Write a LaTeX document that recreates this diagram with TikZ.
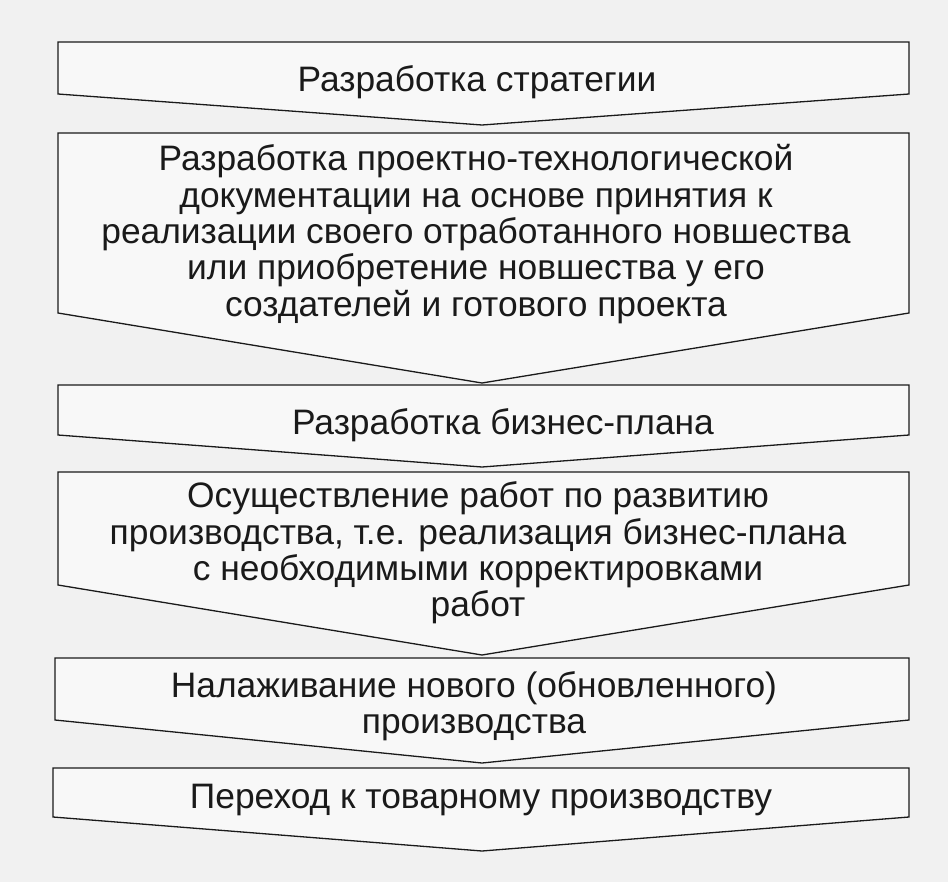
\documentclass[tikz,border=0pt]{standalone}
\usepackage{fontspec}
\setmainfont{Liberation Sans}
\definecolor{bg}{HTML}{F1F1F1}
\definecolor{boxfill}{HTML}{F8F8F8}
\definecolor{ink}{HTML}{1A1A1A}
\tikzset{
  chev/.style={draw=ink, line width=1.3bp, fill=boxfill, line join=miter},
  lbl/.style={text=ink, align=center, font=\fontsize{35.5}{36.5}\selectfont, inner sep=0pt}
}
\newcommand{\chevshape}[6]{% left right top sides tip tipx
  \path[chev] (#1,#3) -- (#2,#3) -- (#2,#4) -- (#6,#5) -- (#1,#4) -- cycle;}
\begin{document}
\begin{tikzpicture}[x=1bp,y=-1bp]
\fill[bg] (0,0) rectangle (948,882);
\useasboundingbox (0,0) rectangle (948,882);
\chevshape{58}{909}{42}{94}{125}{482}
\chevshape{58}{909}{133}{313}{383}{482}
\chevshape{58}{909}{385}{435}{467}{482}
\chevshape{58}{909}{472}{585}{655}{482}
\chevshape{55}{909}{658}{720}{763}{482}
\chevshape{53}{909}{768}{817}{851}{482}
\node[lbl] (t1) at (477,82) {Разработка стратегии};
\node[lbl] (t2) at (476,234) {Разработка проектно-технологической\\документации на основе принятия к\\реализации своего отработанного новшества\\или приобретение новшества у его\\создателей и готового проекта};
\node[lbl] (t3) at (503,425) {Разработка бизнес-плана};
\node[lbl] (t4) at (478,553) {Осуществление работ по развитию\\производства, т.е. реализация бизнес-плана\\с необходимыми корректировками\\работ};
\node[lbl] (t5) at (474,706) {Налаживание нового (обновленного)\\производства};
\node[lbl] (t6) at (481,800) {Переход к товарному производству};
\end{tikzpicture}
\end{document}
